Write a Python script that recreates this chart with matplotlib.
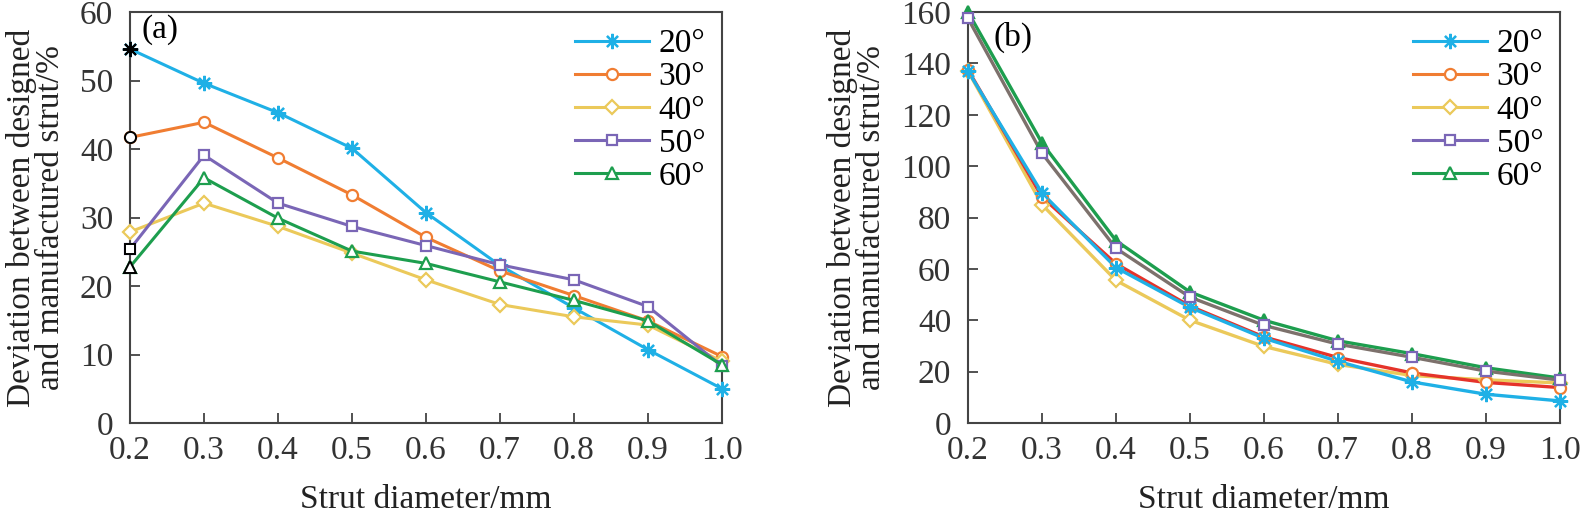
import numpy as np
import matplotlib
matplotlib.use("Agg")
import matplotlib.pyplot as plt

plt.rcParams['font.family'] = ['Liberation Serif', 'DejaVu Serif']

# strut diameter (mm)
diameters = [0.2, 0.3, 0.4, 0.5, 0.6, 0.7, 0.8, 0.9, 1.0]
angles = ["20°", "30°", "40°", "50°", "60°"]

# panel (a) deviation, %
dev_a_20 = [54.6, 49.6, 45.3, 40.1, 30.7, 23.0, 16.8, 10.7, 5.0]
dev_a_30 = [41.7, 43.9, 38.7, 33.3, 27.1, 22.2, 18.6, 14.9, 9.7]
dev_a_40 = [27.9, 32.1, 28.7, 24.8, 20.9, 17.3, 15.5, 14.3, 9.0]
dev_a_50 = [25.4, 39.1, 32.1, 28.7, 25.9, 23.1, 20.9, 17.0, 8.3]
dev_a_60 = [22.8, 35.8, 29.9, 25.1, 23.3, 20.6, 17.9, 14.9, 8.5]

# panel (b) deviation, %
dev_b_20 = [137.0, 89.5, 60.5, 45.0, 33.0, 24.0, 16.0, 11.2, 8.6]
dev_b_30 = [137.5, 88.0, 62.0, 45.5, 33.5, 25.5, 19.5, 15.8, 13.8]
dev_b_40 = [137.0, 85.0, 55.5, 40.0, 29.8, 22.8, 18.5, 16.8, 15.6]
dev_b_50 = [157.5, 105.0, 68.0, 49.0, 38.0, 30.7, 25.6, 20.2, 16.7]
dev_b_60 = [160.0, 109.0, 71.0, 51.0, 40.0, 32.0, 27.0, 21.5, 17.5]

cols = ["#1fb0e6", "#f07d32", "#ebc95a", "#7a66b6", "#1d9e4e"]
line_b = ["#1fb0e6", "#e5332a", "#ebc95a", "#7d716c", "#1d9e4e"]
markers = [(8, 2, 0), "o", "D", "s", "^"]
msizes = [11, 8, 7, 7.5, 8.5]

fig = plt.figure(figsize=(15.82, 5.12), dpi=100)
ax_a = fig.add_axes([0.0822, 0.1738, 0.3742, 0.8027])
ax_b = fig.add_axes([0.6119, 0.1738, 0.3742, 0.8027])

fs = 24


def style_axes(ax, ymax, ystep):
    ax.set_xlim(0.2, 1.0)
    ax.set_ylim(0, ymax)
    ax.set_xticks(diameters)
    ax.set_xticklabels([f"{d:.1f}" for d in diameters])
    ax.set_yticks(np.arange(0, ymax + 1, ystep))
    ax.tick_params(direction="in", length=7, width=1.2, labelsize=fs,
                   colors="#333333", pad=9, top=False, right=False)
    ax.tick_params(axis="y", pad=12)
    for s in ax.spines.values():
        s.set_linewidth(1.5)
        s.set_color("#444444")
    ax.set_xlabel("Strut diameter/mm", fontsize=fs, labelpad=13, color="#222222")
    ax.set_ylabel("Deviation between designed\nand manufactured strut/%",
                  fontsize=fs, labelpad=10, linespacing=0.95, color="#222222")


# panel (a)
series_a = [dev_a_20, dev_a_30, dev_a_40, dev_a_50, dev_a_60]
for i, vals in enumerate(series_a):
    ax_a.plot(diameters, vals, color=cols[i], lw=2.2, marker=markers[i],
              ms=msizes[i], mfc="white", mec=cols[i], mew=1.6,
              label=angles[i], clip_on=False, zorder=3)
    if i != 2:
        # first point drawn in black in the original
        ax_a.plot(diameters[0], vals[0], ls="none", marker=markers[i],
                  ms=msizes[i], mfc="white", mec="black", mew=1.4,
                  clip_on=False, zorder=4)
style_axes(ax_a, 60, 10)
ax_a.text(0.215, 57.5, "(a)", fontsize=fs, va="center", ha="left")
ax_a.legend(loc="upper right", bbox_to_anchor=(1.0, 1.0), frameon=False,
            fontsize=fs, handlelength=2.2, handletextpad=0.3,
            labelspacing=0.08, borderaxespad=0.1)

# panel (b)
series_b = [dev_b_20, dev_b_30, dev_b_40, dev_b_50, dev_b_60]
order = [2, 1, 0, 4, 3]
for i in order:
    vals = series_b[i]
    ax_b.plot(diameters, vals, color=line_b[i], lw=2.4, zorder=3, clip_on=False)
    ax_b.plot(diameters, vals, ls="none", marker=markers[i], ms=msizes[i],
              mfc=cols[i] if i == 4 else "white", mec=cols[i], mew=1.6,
              zorder=4, clip_on=False)
for i in range(5):
    ax_b.plot([], [], color=cols[i], lw=2.2, marker=markers[i], ms=msizes[i],
              mfc="white", mec=cols[i], mew=1.6, label=angles[i])
style_axes(ax_b, 160, 20)
ax_b.text(0.235, 150, "(b)", fontsize=fs, va="center", ha="left")
ax_b.legend(loc="upper right", bbox_to_anchor=(1.0, 1.0), frameon=False,
            fontsize=fs, handlelength=2.2, handletextpad=0.3,
            labelspacing=0.08, borderaxespad=0.1)

fig.savefig("out.png", dpi=100)
